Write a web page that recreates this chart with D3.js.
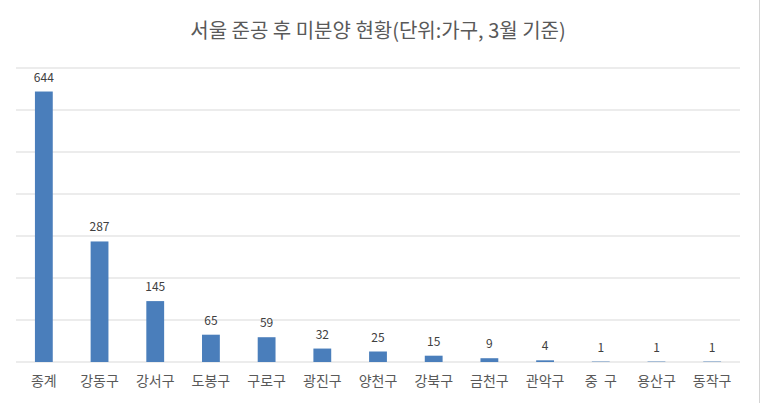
<!DOCTYPE html>
<html><head><meta charset="utf-8">
<script src="https://cdn.jsdelivr.net/npm/d3@7"></script>
<style>body{margin:0;background:#fff}</style>
</head><body><main></main>
<script>
const districts = ["종계","강동구","강서구","도봉구","구로구","광진구","양천구","강북구","금천구","관악구","중  구","용산구","동작구"]
const counts = [644,287,145,65,59,32,25,15,9,4,1,1,1]
const yTicks = [0,100,200,300,400,500,600,700]

const svgWidth = 773
const svgHeight = 403
const plotLeft = 16, plotRight = 740, plotTop = 68, plotBottom = 362
const font = "'Noto Sans CJK KR', 'Noto Sans', sans-serif"

let svg = d3.select("main").append("svg")
    .attr("width", svgWidth).attr("height", svgHeight)
    .style("font-family", font)

svg.append("text")
    .attr("x", 378).attr("y", 38)
    .attr("text-anchor", "middle")
    .attr("font-size", 20).attr("fill", "#595959")
    .text("서울 준공 후 미분양 현황(단위:가구, 3월 기준)")

let yScale = d3.scaleLinear().domain([0, 700]).range([plotBottom, plotTop])
let xScale = d3.scaleBand().domain(districts).range([plotLeft, plotRight]).paddingInner(0.68).paddingOuter(0.34)

svg.selectAll("line.grid").data(yTicks).enter().append("line")
    .attr("x1", plotLeft).attr("x2", plotRight)
    .attr("y1", d => yScale(d)).attr("y2", d => yScale(d))
    .attr("stroke", "#d9d9d9").attr("stroke-width", 1)

// spreadsheet edge on the right
svg.append("line").attr("x1", 759.5).attr("x2", 759.5).attr("y1", 0).attr("y2", svgHeight)
    .attr("stroke", "#d4d4d4")

svg.selectAll("rect").data(counts).enter().append("rect")
    .attr("x", (d, i) => xScale(districts[i]))
    .attr("y", d => yScale(d))
    .attr("width", xScale.bandwidth())
    .attr("height", d => plotBottom - yScale(d))
    .attr("fill", "#4a7ebb")

svg.selectAll("text.val").data(counts).enter().append("text")
    .attr("x", (d, i) => xScale(districts[i]) + xScale.bandwidth() / 2)
    .attr("y", d => yScale(d) - 10)
    .attr("text-anchor", "middle").attr("font-size", 12).attr("fill", "#404040")
    .text(d => d)

let xAxis = svg.append("g").attr("transform", `translate(0, ${plotBottom})`)
    .call(d3.axisBottom(xScale).tickSize(0).tickPadding(14))
xAxis.select("path").remove()
xAxis.selectAll("text").attr("font-size", 14).attr("fill", "#595959")
    .style("font-family", font).style("white-space", "pre")
</script></body></html>
